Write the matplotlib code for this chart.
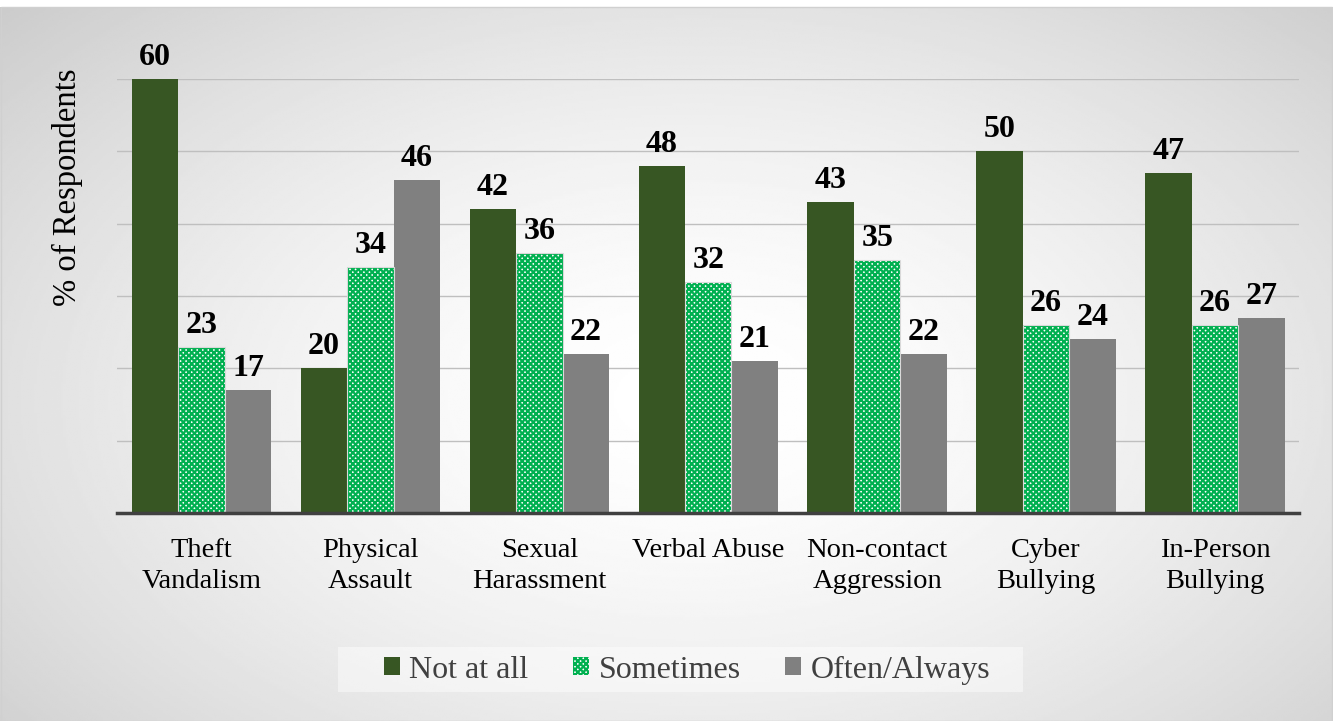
import matplotlib.pyplot as plt
import numpy as np
from matplotlib.patches import Patch

categories = ['Theft\nVandalism', 'Physical\nAssault', 'Sexual\nHarassment', 'Verbal Abuse',
              'Non-contact\nAggression', 'Cyber\nBullying', 'In-Person\nBullying']
not_at_all = [60, 20, 42, 48, 43, 50, 47]
sometimes = [23, 34, 36, 32, 35, 26, 26]
often_always = [17, 46, 22, 21, 22, 24, 27]
series_names = ['Not at all', 'Sometimes', 'Often/Always']

plt.rcParams['font.family'] = ['Liberation Serif', 'DejaVu Serif']
plt.rcParams['hatch.linewidth'] = 1.6

fig = plt.figure(figsize=(13.33, 7.21), dpi=100)
fig.patch.set_facecolor('white')

# radial gradient background
bg = fig.add_axes([0, 0, 1, 0.99])
yy, xx = np.mgrid[0:1:300j, 0:1:600j]
r = np.sqrt(((xx - 0.52) / 0.75) ** 2 + ((yy - 0.55) / 0.85) ** 2)
shade = 1.0 - 0.22 * np.clip(r, 0, 1.2) ** 1.6
bg.imshow(shade, cmap='gray', vmin=0, vmax=1, aspect='auto', extent=[0, 1, 0, 1])
bg.set_axis_off()
fig.add_artist(plt.Rectangle((0.001, 0.0), 0.998, 0.99, transform=fig.transFigure,
                             fill=False, edgecolor='#D0D0D0', linewidth=1))
# legend backdrop
fig.add_artist(plt.Rectangle((338 / 1333, 29 / 721), 685 / 1333, 45 / 721,
                             transform=fig.transFigure, facecolor='white', alpha=0.45,
                             edgecolor='none'))

ax = fig.add_axes([0.0878, 0.2885, 0.887, 0.602])
ax.set_facecolor('none')

x = np.arange(len(categories))
w = 0.275
b1 = ax.bar(x - w, not_at_all, w, color='#375623', zorder=3)
b2 = ax.bar(x, sometimes, w, facecolor='white', edgecolor='#00B050', hatch='xxxxxx',
            linewidth=0, zorder=3)
b3 = ax.bar(x + w, often_always, w, color='#808080', zorder=3)
ax.bar(x, sometimes, w, fill=False, edgecolor='#D9D9D9', linewidth=0.8, zorder=4)

for bars in (b1, b2, b3):
    for rect in bars:
        h = rect.get_height()
        ax.annotate(str(h), (rect.get_x() + rect.get_width() / 2, h),
                    xytext=(0, 5), textcoords='offset points', ha='center', va='bottom',
                    fontsize=23, fontweight='bold', color='black', clip_on=False)

ax.set_xlim(-0.5, len(categories) - 0.5)
ax.set_ylim(0, 60)
ax.set_yticks(np.arange(0, 61, 10))
ax.set_yticklabels([])
ax.tick_params(axis='y', length=0)
ax.yaxis.grid(True, color='#BFBFBF', linewidth=1, zorder=0)
ax.set_axisbelow(True)
ax.set_xticks(x)
ax.set_xticklabels(categories, fontsize=20.5, linespacing=1.33)
ax.tick_params(axis='x', length=0, pad=18)
for s in ['top', 'right', 'left']:
    ax.spines[s].set_visible(False)
ax.spines['bottom'].set_color('#404040')
ax.spines['bottom'].set_linewidth(2.5)
ax.spines['bottom'].set_zorder(5)
ax.set_ylabel('% of Respondents', fontsize=23.5)
ax.yaxis.set_label_coords(-0.029, 0.75)

handles = [Patch(facecolor='#375623'),
           Patch(facecolor='white', edgecolor='#00B050', hatch='xxxxxx', linewidth=0),
           Patch(facecolor='#808080')]
leg = fig.legend(handles, series_names, loc='center', bbox_to_anchor=(0.5154, 0.0707),
                 ncol=3, fontsize=23, frameon=False, handlelength=0.5,
                 handleheight=0.5, handletextpad=0.3, columnspacing=1.4)
for t in leg.get_texts():
    t.set_color('#404040')

fig.savefig('out.png', dpi=100)
